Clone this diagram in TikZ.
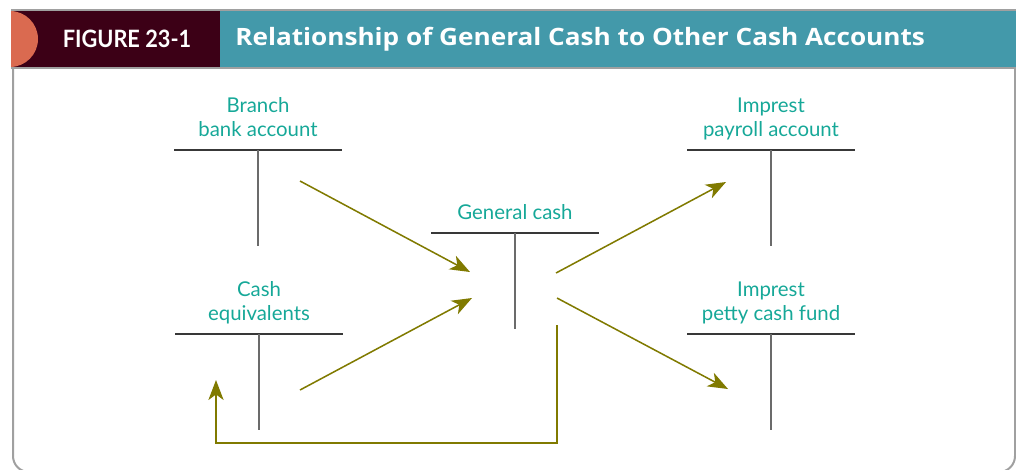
\documentclass[tikz,border=0pt]{standalone}
\usepackage{fontspec}
\setmainfont{Lato}
\newfontfamily\titlefont{Open Sans}
\usetikzlibrary{arrows.meta}
\definecolor{hdrdark}{RGB}{60,0,22}
\definecolor{hdrteal}{RGB}{67,153,170}
\definecolor{hdrdot}{RGB}{218,106,80}
\definecolor{lblteal}{RGB}{22,168,152}
\definecolor{flow}{RGB}{128,122,0}
\definecolor{frame}{RGB}{160,160,160}
\begin{document}
\begin{tikzpicture}[
    x=0.25mm, y=-0.25mm,
    >={Stealth[length=5mm, width=3.8mm, inset=1.4mm]},
    every node/.style={font=\fontsize{14.5}{17.7}\selectfont},
    acct/.style={
        text=lblteal, align=center, anchor=south,
        inner sep=0pt, text depth=1mm, yshift=2.2mm
    },
    tbar/.style={line width=0.5mm, draw=black!78},
    tstem/.style={line width=0.4mm, draw=black!58},
    arr/.style={->, line width=0.38mm, draw=flow}
]
\useasboundingbox (0,0) rectangle (1016,469);

% ----------------------------------------------------------
% Kopfzeile mit Nummer und Titel
% ----------------------------------------------------------
\draw[frame, line width=0.5mm, rounded corners=4mm]
    (13,60) -- (13,472) -- (1015,472) -- (1015,60);
\fill[hdrteal] (220,11) rectangle (1020,67);
\fill[hdrdark] (11,11) rectangle (220,67);
\begin{scope}
    \clip (11,11) rectangle (60,67);
    \fill[hdrdot] (10,39) circle (28);
\end{scope}
\draw[frame, line width=0.4mm] (11,10) -- (1020,10);
\draw[frame, line width=0.4mm] (11,68) -- (1020,68);

\node[text=white, font=\fontsize{17}{20}\selectfont\bfseries] (fig) at (127,39)
    {\scalebox{0.91}[1]{FIGURE 23-1}};
\node[text=white, font=\fontsize{17}{20}\selectfont\titlefont\bfseries, anchor=west,
    inner sep=0pt] (title) at (235,39)
    {\scalebox{1.095}[1]{Relationship of General Cash to Other Cash Accounts}};

% ----------------------------------------------------------
% T-Konten: waagrechter Balken und senkrechter Strich
% ----------------------------------------------------------
\foreach \nm/\cx/\cy in {bra/258/150, ceq/259/334, gen/515/233, pay/771/150, pet/771/334} {
    \coordinate (\nm) at (\cx,\cy);
    \draw[tbar] (\cx-84,\cy) -- (\cx+84,\cy);
    \draw[tstem] (\cx,\cy) -- (\cx,\cy+96);
}

\node[acct] (bralbl) at (bra) {Branch\\bank account};
\node[acct] (ceqlbl) at (ceq) {Cash\\equivalents};
\node[acct] (genlbl) at (gen) {General cash};
\node[acct] (paylbl) at (pay) {Imprest\\payroll account};
\node[acct] (petlbl) at (pet) {Imprest\\petty cash fund};

% ----------------------------------------------------------
% Geldflüsse zwischen den Konten
% ----------------------------------------------------------
\coordinate (braout) at (300,181);
\coordinate (genin1) at (470,272);
\coordinate (ceqout) at (300,390);
\coordinate (genin2) at (472,298);
\coordinate (genout1) at (556,273);
\coordinate (payin) at (726,182);
\coordinate (genout2) at (557,298);
\coordinate (petin) at (728,389);
\coordinate (genout3) at (557,325);
\coordinate (ceqin) at (216,380);

\draw[arr] (braout) -- (genin1);
\draw[arr] (ceqout) -- (genin2);
\draw[arr] (genout1) -- (payin);
\draw[arr] (genout2) -- (petin);
\draw[arr] (genout3) |- (216,443) -- (ceqin);

\end{tikzpicture}
\end{document}
